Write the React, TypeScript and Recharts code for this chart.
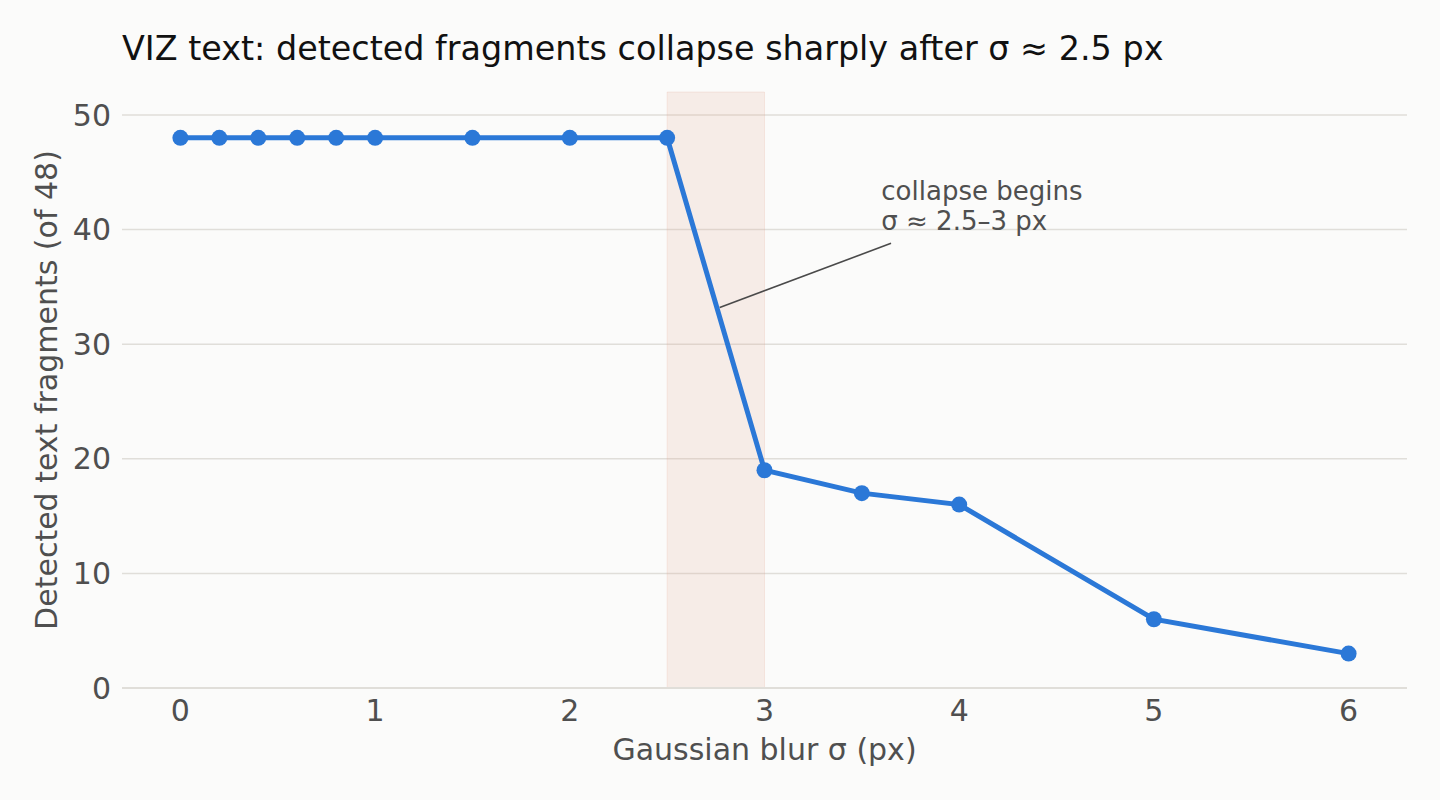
import React from "react";
import {
  LineChart,
  Line,
  XAxis,
  YAxis,
  CartesianGrid,
  ReferenceArea,
  ReferenceLine,
  ReferenceDot,
  Label,
} from "recharts";

// blur sigma (px) and detected fragment counts
const sigmas = [0, 0.2, 0.4, 0.6, 0.8, 1, 1.5, 2, 2.5, 3, 3.5, 4, 5, 6];
const detected = [48, 48, 48, 48, 48, 48, 48, 48, 48, 19, 17, 16, 6, 3];

const xTicks = [0, 1, 2, 3, 4, 5, 6];
const yTicks = [0, 10, 20, 30, 40, 50];

const bandStart = 2.5;
const bandEnd = 3;

const noteLines = ["collapse begins", "σ ≈ 2.5–3 px"];
const noteAt = { x: 3.6, y: 42.6 };
const arrowFrom = { x: 3.65, y: 38.8 };
const arrowTo = { x: 2.77, y: 33.2 };

const data = sigmas.map((s, i) => ({ sigma: s, detected: detected[i] }));

const FONT = "'DejaVu Sans', sans-serif";
const TEXT = "#4f4f4f";
const BLUE = "#2b78d7";
const GRID = "#e0ded9";

function YLabel(props: any) {
  const { viewBox } = props;
  const cy = viewBox.y + viewBox.height / 2;
  const cx = 46;
  return (
    <text
      x={cx}
      y={cy}
      transform={`rotate(-90 ${cx} ${cy})`}
      textAnchor="middle"
      dominantBaseline="central"
      fill={TEXT}
      fontSize={30}
      fontFamily={FONT}
    >
      Detected text fragments (of 48)
    </text>
  );
}

function Note(props: any) {
  const { cx, cy } = props;
  return (
    <text x={cx} y={cy} fill={TEXT} fontSize={26} fontFamily={FONT}>
      {noteLines.map((t, i) => (
        <tspan key={i} x={cx} dy={i === 0 ? 0 : 30}>
          {t}
        </tspan>
      ))}
    </text>
  );
}

export default function App() {
  return (
    <div
      style={{
        position: "absolute",
        left: 0,
        top: 0,
        width: 1440,
        height: 800,
        background: "#fbfbfa",
        fontFamily: FONT,
      }}
    >
      <div
        style={{
          position: "absolute",
          left: 122,
          top: 32,
          fontSize: 33.4,
          lineHeight: 1,
          color: "#111",
          whiteSpace: "nowrap",
        }}
      >
        VIZ text: detected fragments collapse sharply after σ ≈ 2.5 px
      </div>

      <LineChart
        width={1440}
        height={800}
        data={data}
        margin={{ top: 92, right: 33, left: 0, bottom: 0 }}
      >
        <CartesianGrid
          vertical={false}
          horizontalValues={yTicks}
          stroke={GRID}
          strokeWidth={1.5}
        />
        <ReferenceArea
          x1={bandStart}
          x2={bandEnd}
          y1={0}
          y2={52}
          fill="#e3a08a"
          fillOpacity={0.16}
          stroke="#e3a08a"
          strokeOpacity={0.2}
        />
        <XAxis
          dataKey="sigma"
          type="number"
          domain={[-0.3, 6.3]}
          ticks={xTicks}
          height={112}
          tickSize={0}
          tickMargin={12}
          axisLine={{ stroke: GRID, strokeWidth: 2 }}
          tickLine={false}
          tick={{ fill: TEXT, fontSize: 30, fontFamily: FONT }}
        >
          <Label
            value="Gaussian blur σ (px)"
            position="insideBottom"
            offset={40}
            fill={TEXT}
            fontSize={30}
            fontFamily={FONT}
          />
        </XAxis>
        <YAxis
          type="number"
          domain={[0, 52]}
          ticks={yTicks}
          width={122}
          tickSize={0}
          tickMargin={11}
          axisLine={false}
          tickLine={false}
          tick={{ fill: TEXT, fontSize: 30, fontFamily: FONT }}
        >
          <Label content={<YLabel />} />
        </YAxis>
        <Line
          dataKey="detected"
          stroke={BLUE}
          strokeWidth={5}
          dot={{ r: 8, fill: BLUE, stroke: BLUE, strokeWidth: 0 }}
          activeDot={false}
          isAnimationActive={false}
        />
        <ReferenceLine
          segment={[arrowFrom, arrowTo]}
          stroke="#4a4a4a"
          strokeWidth={1.6}
        />
        <ReferenceDot
          x={noteAt.x}
          y={noteAt.y}
          r={0}
          shape={<Note />}
        />
      </LineChart>
    </div>
  );
}
